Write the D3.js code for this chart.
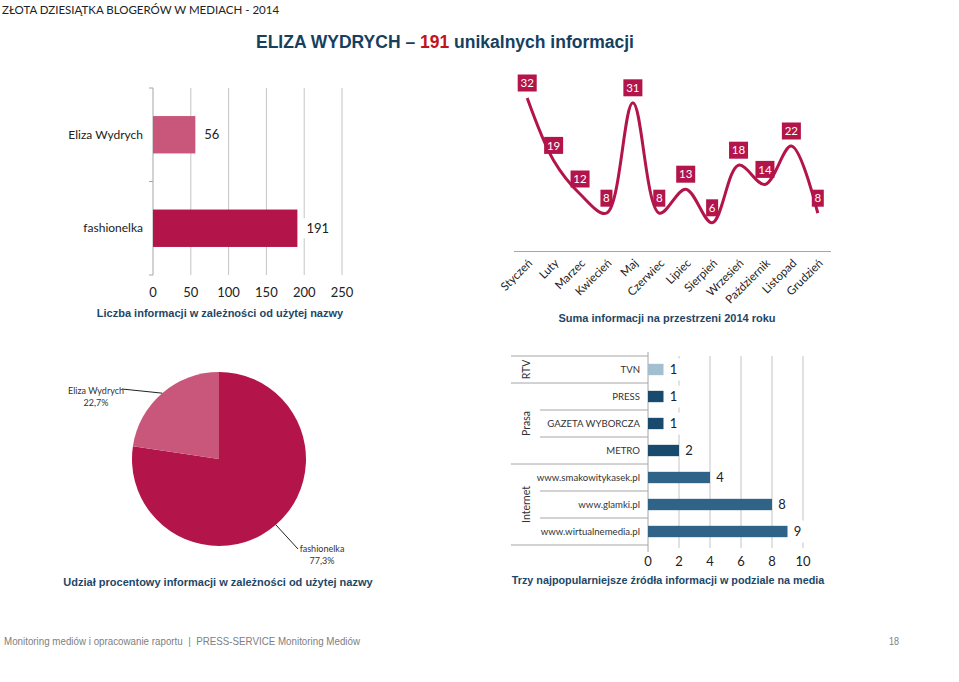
<!DOCTYPE html>
<html><head><meta charset="utf-8">
<script src="https://cdn.jsdelivr.net/npm/d3@7"></script>
<style>
body{margin:0;background:#fff;}
svg text{font-family:Lato,"Noto Sans",sans-serif;}
.cap{font-family:"Liberation Sans",Arial,sans-serif !important;font-weight:bold;fill:#1D4767;}
</style></head><body>
<svg id="c" width="959" height="682"></svg>
<script>
// ---------- data ----------
const barNames = ["Eliza Wydrych", "fashionelka"];
const barValues = [56, 191];
const barTicks = [0, 50, 100, 150, 200, 250];

const months = ["Styczeń","Luty","Marzec","Kwiecień","Maj","Czerwiec","Lipiec","Sierpień","Wrzesień","Październik","Listopad","Grudzień"];
const monthValues = [32, 19, 12, 8, 31, 8, 13, 6, 18, 14, 22, 8];

const pieNames = ["fashionelka", "Eliza Wydrych"];
const pieValues = [191, 56];
const pieLabels = ["77,3%", "22,7%"];

const sourceNames = ["TVN","PRESS","GAZETA WYBORCZA","METRO","www.smakowitykasek.pl","www.glamki.pl","www.wirtualnemedia.pl"];
const sourceValues = [1, 1, 1, 2, 4, 8, 9];
const sourceGroups = ["RTV","Prasa","Prasa","Prasa","Internet","Internet","Internet"];
const sourceTicks = [0, 2, 4, 6, 8, 10];

// ---------- styles ----------
const crimson = "#B3144A", pink = "#C9577B";
const grid = "#C4C4C4";
const svg = d3.select("#c");

// header
svg.append("text").attr("x", 2).attr("y", 14).attr("font-size", 11.5).attr("fill", "#222")
  .text("ZŁOTA DZIESIĄTKA BLOGERÓW W MEDIACH - 2014");
const t = svg.append("text").attr("x", 445).attr("y", 48).attr("text-anchor", "middle")
  .attr("font-size", 17.5).attr("font-weight", "bold").attr("fill", "#17405F")
  .style("font-family", "'Liberation Sans',Arial,sans-serif");
t.append("tspan").text("ELIZA WYDRYCH – ");
t.append("tspan").attr("fill", "#C0141C").text("191");
t.append("tspan").text(" unikalnych informacji");

// ---------- chart 1: horizontal bars ----------
{
  const x = d3.scaleLinear().domain([0, 250]).range([153, 342]);
  const y = d3.scaleBand().domain(barNames).range([88, 275]).paddingInner(0.6).paddingOuter(0.3);
  const g = svg.append("g");
  g.selectAll("line.g").data(barTicks.slice(1)).join("line")
    .attr("x1", d => x(d)).attr("x2", d => x(d)).attr("y1", 88).attr("y2", 275)
    .attr("stroke", grid).attr("stroke-width", 1);
  g.append("line").attr("x1", 153).attr("x2", 153).attr("y1", 88).attr("y2", 275).attr("stroke", "#A6A6A6");
  [88, 181.5, 275].forEach(v => g.append("line").attr("x1", 149).attr("x2", 153).attr("y1", v).attr("y2", v).attr("stroke", "#A6A6A6"));
  g.selectAll("rect.b").data(barNames).join("rect")
    .attr("x", x(0)).attr("y", d => y(d)).attr("height", y.bandwidth())
    .attr("width", (d, i) => x(barValues[i]) - x(0))
    .attr("fill", (d, i) => i === 0 ? pink : crimson);
  barNames.forEach((d, i) => {
    const cx = x(barValues[i]) + 6, cy = y(d) + y.bandwidth() / 2;
    g.append("rect").attr("x", cx - 1).attr("y", cy - 10).attr("width", barValues[i] > 99 ? 26 : 18).attr("height", 20).attr("fill", "#fff");
    g.append("text").attr("x", cx + 3).attr("y", cy).attr("dy", "0.35em").attr("font-size", 13).attr("fill", "#222").text(barValues[i]);
    g.append("text").attr("x", 143).attr("y", cy).attr("dy", "0.35em").attr("text-anchor", "end").attr("font-size", 12).attr("fill", "#222").text(d);
  });
  g.selectAll("text.tk").data(barTicks).join("text")
    .attr("x", d => x(d)).attr("y", 292).attr("dy", "0.35em").attr("text-anchor", "middle")
    .attr("font-size", 13).attr("fill", "#222").text(d => d);
  svg.append("text").attr("class", "cap").attr("x", 220).attr("y", 317).attr("text-anchor", "middle")
    .attr("font-size", 11).text("Liczba informacji w zależności od użytej nazwy");
}

// ---------- chart 2: smoothed line ----------
{
  const x = d3.scaleBand().domain(months).range([514, 831]);
  const y = d3.scaleLinear().domain([0, 35]).range([251.6, 83.6]);
  const g = svg.append("g");
  g.append("line").attr("x1", 514).attr("x2", 831).attr("y1", 251.5).attr("y2", 251.5).attr("stroke", "#A6A6A6");
  const line = d3.line().x((d, i) => x(months[i]) + x.bandwidth() / 2).y(d => y(d)).curve(d3.curveCatmullRom.alpha(0.5));
  g.append("path").datum(monthValues).attr("d", line).attr("fill", "none").attr("stroke", crimson).attr("stroke-width", 3);
  monthValues.forEach((v, i) => {
    const cx = x(months[i]) + x.bandwidth() / 2, cy = y(v) - 15;
    const w = String(v).length > 1 ? 19 : 12;
    g.append("rect").attr("x", cx - w / 2).attr("y", cy - 8.5).attr("width", w).attr("height", 17).attr("fill", crimson);
    g.append("text").attr("x", cx).attr("y", cy).attr("dy", "0.36em").attr("text-anchor", "middle").attr("font-size", 11.5).attr("fill", "#fff").text(v);
  });
  months.forEach(m => {
    const cx = x(m) + x.bandwidth() / 2 + 3;
    g.append("text").attr("transform", `translate(${cx},261) rotate(-45)`).attr("text-anchor", "end")
      .attr("dy", "0.35em").attr("font-size", 11.5).attr("fill", "#222").text(m);
  });
  svg.append("text").attr("class", "cap").attr("x", 667).attr("y", 322).attr("text-anchor", "middle")
    .attr("font-size", 11).text("Suma informacji na przestrzeni 2014 roku");
}

// ---------- chart 3: pie ----------
{
  const cx = 219, cy = 459, r = 87;
  const pie = d3.pie().sort(null).value(d => d)(pieValues);
  const arc = d3.arc().innerRadius(0).outerRadius(r);
  const g = svg.append("g").attr("transform", `translate(${cx},${cy})`);
  g.selectAll("path").data(pie).join("path").attr("d", arc).attr("fill", (d, i) => i === 0 ? crimson : pink);
  const labelPos = [[cx + 103, cy + 93], [cx - 123, cy - 65]];
  const lineEnd = [[cx + 79, cy + 90], [cx - 97, cy - 70]];
  pie.forEach((d, i) => {
    const a = (d.startAngle + d.endAngle) / 2;
    const px = cx + r * Math.sin(a), py = cy - r * Math.cos(a);
    svg.append("line").attr("x1", px).attr("y1", py).attr("x2", lineEnd[i][0]).attr("y2", lineEnd[i][1]).attr("stroke", "#222").attr("stroke-width", 1);
    svg.append("text").attr("x", labelPos[i][0]).attr("y", labelPos[i][1]).attr("text-anchor", "middle").attr("font-size", 9).attr("fill", "#333").text(pieNames[i]);
    svg.append("text").attr("x", labelPos[i][0]).attr("y", labelPos[i][1] + 11.5).attr("text-anchor", "middle").attr("font-size", 9).attr("fill", "#333").text(pieLabels[i]);
  });
  svg.append("text").attr("class", "cap").attr("x", 218).attr("y", 586).attr("text-anchor", "middle")
    .attr("font-size", 11).text("Udział procentowy informacji w zależności od użytej nazwy");
}

// ---------- chart 4: sources ----------
{
  const x = d3.scaleLinear().domain([0, 10]).range([648, 803]);
  const y = d3.scaleBand().domain(sourceNames).range([356, 545]).paddingInner(0.58).paddingOuter(0.29);
  const step = y.step();
  const g = svg.append("g");
  g.selectAll("line.g").data(sourceTicks.slice(1)).join("line")
    .attr("x1", d => x(d)).attr("x2", d => x(d)).attr("y1", 356).attr("y2", 548).attr("stroke", grid);
  g.append("line").attr("x1", 648).attr("x2", 648).attr("y1", 352).attr("y2", 552).attr("stroke", "#A6A6A6");
  for (let i = 0; i <= sourceNames.length; i++) {
    const yy = 356 + i * step;
    const full = i === 0 || i === sourceNames.length || sourceGroups[i] !== sourceGroups[i - 1];
    g.append("line").attr("x1", full ? 511 : 540).attr("x2", 648).attr("y1", yy).attr("y2", yy).attr("stroke", "#A6A6A6");
  }
  const groups = Array.from(new Set(sourceGroups));
  groups.forEach(gr => {
    const idx = sourceGroups.map((s, i) => s === gr ? i : -1).filter(i => i >= 0);
    const mid = 356 + (idx[0] + idx[idx.length - 1] + 1) / 2 * step;
    g.append("text").attr("transform", `translate(526,${mid}) rotate(-90)`).attr("text-anchor", "middle")
      .attr("dy", "0.35em").attr("font-size", 10.5).attr("fill", "#333").text(gr);
  });
  const colorFor = (i) => sourceGroups[i] === "RTV" ? "#A3BECE" : sourceGroups[i] === "Prasa" ? "#184A6E" : "#2F6388";
  sourceNames.forEach((d, i) => {
    const cy = y(d) + y.bandwidth() / 2;
    g.append("rect").attr("x", x(0)).attr("y", y(d)).attr("height", y.bandwidth())
      .attr("width", x(sourceValues[i]) - x(0)).attr("fill", colorFor(i));
    g.append("text").attr("x", 640).attr("y", cy).attr("dy", "0.35em").attr("text-anchor", "end")
      .attr("font-size", 9.6).attr("fill", "#333").text(d);
    const lx = x(sourceValues[i]) + 10;
    g.append("rect").attr("x", lx - 9).attr("y", cy - 11).attr("width", 20).attr("height", 22).attr("fill", "#fff");
    g.append("text").attr("x", lx).attr("y", cy).attr("dy", "0.35em").attr("text-anchor", "middle")
      .attr("font-size", 13).attr("fill", "#222").text(sourceValues[i]);
  });
  g.selectAll("text.tk").data(sourceTicks).join("text")
    .attr("x", d => x(d)).attr("y", 561).attr("dy", "0.35em").attr("text-anchor", "middle")
    .attr("font-size", 13).attr("fill", "#222").text(d => d);
  svg.append("text").attr("class", "cap").attr("x", 668).attr("y", 584).attr("text-anchor", "middle")
    .attr("font-size", 10.8).text("Trzy najpopularniejsze źródła informacji w podziale na media");
}

// footer
svg.append("text").attr("x", 4).attr("y", 645).attr("font-size", 11.5).attr("fill", "#808080")
  .attr("textLength", 356).attr("lengthAdjust", "spacingAndGlyphs")
  .style("white-space", "pre")
  .style("font-family", "'Liberation Sans',Arial,sans-serif")
  .text("Monitoring mediów i opracowanie raportu  |  PRESS-SERVICE Monitoring Mediów");
svg.append("text").attr("x", 889).attr("y", 645).attr("font-size", 11.5).attr("fill", "#808080")
  .attr("textLength", 10).attr("lengthAdjust", "spacingAndGlyphs")
  .style("font-family", "'Liberation Sans',Arial,sans-serif").text("18");
</script></body></html>
